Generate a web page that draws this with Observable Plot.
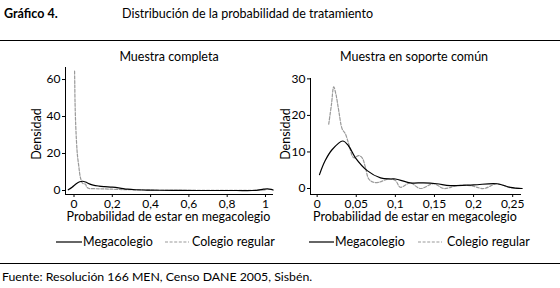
<!DOCTYPE html>
<html><head><meta charset="utf-8">
<script src="https://cdn.jsdelivr.net/npm/d3@7"></script>
<script src="https://cdn.jsdelivr.net/npm/@observablehq/plot@0.6"></script>
<style>
body{margin:0;background:#fff;}
#wrap{position:relative;width:560px;height:288px;font-family:Lato,sans-serif;color:#000;overflow:hidden;background:#fff}
.abs{position:absolute;white-space:nowrap;line-height:1}
.rule{position:absolute;left:0;width:560px;height:0;border-top:1.3px solid #000}
.panel{position:absolute;top:0}
.legend{position:absolute;font-size:12.5px;line-height:1;white-space:nowrap}
</style></head><body><div id="wrap"></div>
<script>
// ---- data ----
const seriesNames = ["Megacolegio", "Colegio regular"];
const panelTitles = ["Muestra completa", "Muestra en soporte común"];
const xLabel = "Probabilidad de estar en megacolegio";
const yLabel = "Densidad";

// Panel 1: Muestra completa
const completaMegaX = [-0.03, -0.01, 0.01, 0.03, 0.045, 0.06, 0.08, 0.10, 0.13, 0.16, 0.20, 0.24, 0.28, 0.32, 0.38, 0.45, 0.55, 0.65, 0.75, 0.85, 0.93, 0.96, 0.99, 1.01, 1.03, 1.04];
const completaMegaY = [0.4, 1.8, 3.5, 4.7, 5.0, 4.6, 3.6, 2.9, 2.4, 2.1, 1.8, 1.3, 0.7, 0.4, 0.25, 0.15, 0.05, 0.0, 0.0, 0.0, 0.0, 0.2, 0.7, 0.9, 0.6, 0.3];
const completaRegX = [0.003, 0.004, 0.005, 0.008, 0.013, 0.018, 0.024, 0.03, 0.036, 0.044, 0.052, 0.06, 0.066, 0.075, 0.10, 0.15, 0.20, 0.25, 0.30, 0.35, 0.40, 0.50, 0.60, 0.70, 0.80, 0.90, 0.95, 1.0];
const completaRegY = [64.5, 58, 50, 38, 26.5, 19, 14, 9, 6, 4, 3.6, 3.4, 2, 1.2, 1.0, 0.9, 0.7, 0.5, 0.4, 0.3, 0.2, 0.1, 0.05, 0.05, 0.05, 0.05, 0.1, 0.3];
const completaXTicks = [0, 0.2, 0.4, 0.6, 0.8, 1];
const completaYTicks = [0, 20, 40, 60];

// Panel 2: Muestra en soporte común
const soporteMegaX = [0.003, 0.01, 0.019, 0.0327, 0.040, 0.049, 0.064, 0.081, 0.094, 0.100, 0.119, 0.136, 0.153, 0.170, 0.200, 0.230, 0.247, 0.262];
const soporteMegaY = [3.8, 7.5, 10.6, 13.0, 11.7, 8.4, 4.9, 2.9, 2.6, 2.6, 1.55, 1.55, 1.3, 0.8, 1.0, 1.3, 0.3, 0.0];
const soporteRegX = [0.0148, 0.0183, 0.0212, 0.024, 0.0276, 0.032, 0.036, 0.0404, 0.0468, 0.053, 0.0575, 0.0617, 0.066, 0.0723, 0.0787, 0.0915, 0.100, 0.1064, 0.119, 0.132, 0.149, 0.162, 0.179, 0.196, 0.213, 0.230, 0.247, 0.262];
const soporteRegY = [17.6, 23, 27.8, 25.8, 21.3, 16.3, 15, 12.2, 8.4, 9.0, 8.4, 5.8, 2.6, 1.7, 1.7, 2.6, 2.2, 0.35, 1.5, 0.0, 1.3, 0.0, 0.8, 0.8, 0.0, 1.3, 0.2, 0.0];
const soporteXTicks = [0, 0.05, 0.1, 0.15, 0.2, 0.25];
const soporteYTicks = [0, 10, 20, 30];

// ---- build ----
const zip = (xs, ys) => xs.map((x, i) => ({x, y: ys[i]}));
const fmt = d => String(d).replace(".", ",");
const wrap = document.getElementById("wrap");
const FONT = "Lato, sans-serif";

function add(html, style) {
  const d = document.createElement("div");
  d.className = "abs";
  d.innerHTML = html;
  Object.assign(d.style, style);
  wrap.appendChild(d);
  return d;
}

function panel(o) {
  const svg = Plot.plot({
    width: o.width, height: o.height,
    marginLeft: o.ml, marginRight: o.mr, marginTop: o.mt, marginBottom: o.mb,
    style: {fontFamily: FONT, fontSize: "12px", color: "#000", background: "transparent", overflow: "visible"},
    x: {domain: o.xDomain},
    y: {domain: o.yDomain},
    marks: [
      Plot.frame({anchor: "left", stroke: "#000", strokeWidth: 1}),
      Plot.frame({anchor: "bottom", stroke: "#000", strokeWidth: 1}),
      Plot.axisY(o.yTicks, {tickSize: 3, tickPadding: 2, tickFormat: fmt, label: null, fontSize: 12}),
      Plot.axisX(o.xTicks, {tickSize: 3, tickPadding: 1.5, tickFormat: fmt, label: null, fontSize: 12}),
      Plot.line(o.reg, {x: "x", y: "y", stroke: "#9a9a9a", strokeWidth: 1.2, strokeDasharray: "3,1.6", curve: "catmull-rom"}),
      Plot.line(o.mega, {x: "x", y: "y", stroke: "#000", strokeWidth: 1.2, curve: "catmull-rom"})
    ]
  });
  const holder = document.createElement("div");
  holder.className = "panel";
  holder.style.left = o.left + "px";
  holder.style.width = o.width + "px";
  holder.style.height = o.height + "px";
  holder.appendChild(svg);
  wrap.appendChild(holder);
  // axis titles
  add(xLabel, {left: (o.left + o.ml + (o.width - o.ml - o.mr) / 2) + "px", top: "211px", fontSize: "12.5px", transform: "translateX(-50%)"});
  add(yLabel, {left: o.ylx + "px", top: "134px", fontSize: "12.5px", transform: "translate(-50%,-50%) rotate(-90deg)"});
}

panel({
  left: 0, width: 280, height: 232, ml: 65, mr: 8, mt: 67, mb: 38,
  xDomain: [-0.0444, 1.0366], yDomain: [-2.16, 66.5],
  xTicks: completaXTicks, yTicks: completaYTicks, ylx: 37,
  mega: zip(completaMegaX, completaMegaY), reg: zip(completaRegX, completaRegY)
});
panel({
  left: 280, width: 280, height: 232, ml: 30, mr: 40, mt: 78, mb: 38,
  xDomain: [-0.0085, 0.26], yDomain: [-1.64, 30.1],
  xTicks: soporteXTicks, yTicks: soporteYTicks, ylx: 286,
  mega: zip(soporteMegaX, soporteMegaY), reg: zip(soporteRegX, soporteRegY)
});

// header
add("Gráfico 4.", {left: "4px", top: "8px", fontSize: "12.5px", fontWeight: "bold"});
add("Distribución de la probabilidad de tratamiento", {left: "122px", top: "8px", fontSize: "12.5px"});
const r1 = document.createElement("div"); r1.className = "rule"; r1.style.top = "40px"; wrap.appendChild(r1);

// panel titles
add(panelTitles[0], {left: "169px", top: "51px", fontSize: "12.5px", transform: "translateX(-50%)"});
add(panelTitles[1], {left: "414px", top: "51px", fontSize: "12.5px", transform: "translateX(-50%)"});

// legends
function legend(items) {
  items.forEach(it => {
    const d = document.createElement("div");
    d.className = "legend";
    d.style.left = it.x + "px";
    d.style.top = "235px";
    d.innerHTML = `<svg width="${it.w}" height="12" style="vertical-align:middle;overflow:visible"><line x1="0" x2="${it.w}" y1="6" y2="6" stroke="${it.stroke}" stroke-width="1.2" ${it.dash ? `stroke-dasharray="${it.dash}"` : ""}/></svg><span style="margin-left:${it.gap}px;vertical-align:middle">${it.name}</span>`;
    wrap.appendChild(d);
  });
}
legend([
  {x: 56, w: 26, gap: 1, stroke: "#000", name: seriesNames[0]},
  {x: 165, w: 24, gap: 3, stroke: "#9a9a9a", dash: "3,1.6", name: seriesNames[1]}
]);
legend([
  {x: 309, w: 25, gap: 1, stroke: "#000", name: seriesNames[0]},
  {x: 418, w: 24, gap: 5, stroke: "#9a9a9a", dash: "3,1.6", name: seriesNames[1]}
]);

// footer
const r2 = document.createElement("div"); r2.className = "rule"; r2.style.top = "263px"; wrap.appendChild(r2);
add("Fuente: Resolución 166 MEN, Censo DANE 2005, Sisbén.", {left: "2px", top: "271px", fontSize: "12.3px"});
</script>
</body></html>
